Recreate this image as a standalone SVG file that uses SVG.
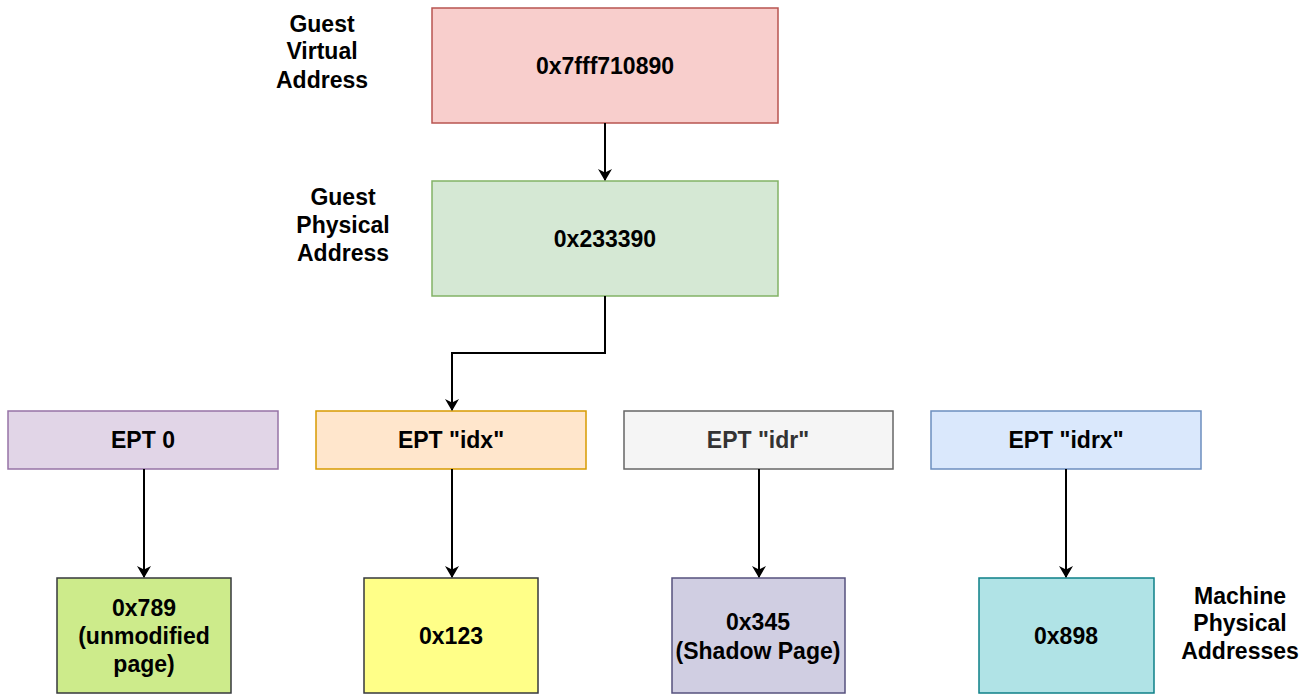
<svg xmlns="http://www.w3.org/2000/svg" width="1314" height="695" viewBox="0 0 1314 695">
  <defs>
    <marker id="arrow" markerWidth="12" markerHeight="14" refX="11" refY="7" orient="auto" markerUnits="userSpaceOnUse">
      <path d="M0,0 L12,7 L0,14 L3.5,7 Z" fill="#000000"/>
    </marker>
    <style>
      text { font-family: "Liberation Sans", Arial, sans-serif; font-weight: bold; font-size: 23px; fill: #000000; text-anchor: middle; }
      .box { stroke-width: 1.5; }
      .conn { fill: none; stroke: #000000; stroke-width: 2; marker-end: url(#arrow); }
    </style>
  </defs>
  <rect width="1314" height="695" fill="#ffffff"/>

  <!-- side labels -->
  <g id="label-gva">
    <text x="322" y="32">Guest</text>
    <text x="322" y="59">Virtual</text>
    <text x="322" y="88">Address</text>
  </g>
  <g id="label-gpa">
    <text x="343" y="205">Guest</text>
    <text x="343" y="233">Physical</text>
    <text x="343" y="261">Address</text>
  </g>
  <g id="label-mpa">
    <text x="1240" y="604">Machine</text>
    <text x="1240" y="631">Physical</text>
    <text x="1240" y="659">Addresses</text>
  </g>

  <!-- address nodes -->
  <g id="gva">
    <rect class="box" x="432" y="8" width="346" height="115" fill="#f8cecc" stroke="#b85450"/>
    <text x="605" y="74">0x7fff710890</text>
  </g>
  <g id="gpa">
    <rect class="box" x="432" y="181" width="346" height="115" fill="#d5e8d4" stroke="#82b366"/>
    <text x="605" y="247">0x233390</text>
  </g>

  <!-- EPT views -->
  <g id="ept0">
    <rect class="box" x="8" y="411" width="270" height="58" fill="#e1d5e7" stroke="#9673a6"/>
    <text x="143" y="448">EPT 0</text>
  </g>
  <g id="ept-idx">
    <rect class="box" x="316" y="411" width="270" height="58" fill="#ffe6cc" stroke="#d79b00"/>
    <text x="451" y="448">EPT "idx"</text>
  </g>
  <g id="ept-idr">
    <rect class="box" x="624" y="411" width="269" height="58" fill="#f5f5f5" stroke="#666666"/>
    <text x="758" y="448" style="fill:#333333">EPT "idr"</text>
  </g>
  <g id="ept-idrx">
    <rect class="box" x="931" y="411" width="270" height="58" fill="#dae8fc" stroke="#6c8ebf"/>
    <text x="1066" y="448">EPT "idrx"</text>
  </g>

  <!-- machine pages -->
  <g id="page-789">
    <rect class="box" x="57" y="578" width="174" height="115" fill="#cdeb8b" stroke="#36393d"/>
    <text x="144" y="616">0x789</text>
    <text x="144" y="644">(unmodified</text>
    <text x="144" y="672">page)</text>
  </g>
  <g id="page-123">
    <rect class="box" x="364" y="578" width="174" height="115" fill="#ffff88" stroke="#36393d"/>
    <text x="451" y="644">0x123</text>
  </g>
  <g id="page-345">
    <rect class="box" x="672" y="578" width="173" height="115" fill="#d0cee2" stroke="#56517e"/>
    <text x="758" y="630">0x345</text>
    <text x="758" y="659">(Shadow Page)</text>
  </g>
  <g id="page-898">
    <rect class="box" x="979" y="578" width="175" height="115" fill="#b0e3e6" stroke="#0e8088"/>
    <text x="1066" y="644">0x898</text>
  </g>

  <!-- connectors -->
  <g id="connectors">
    <path class="conn" d="M605,123 L605,180"/>
    <path class="conn" d="M605,296 L605,353 L452,353 L452,410"/>
    <path class="conn" d="M144,469 L144,577"/>
    <path class="conn" d="M452,469 L452,577"/>
    <path class="conn" d="M759,469 L759,577"/>
    <path class="conn" d="M1066,469 L1066,577"/>
  </g>
</svg>
